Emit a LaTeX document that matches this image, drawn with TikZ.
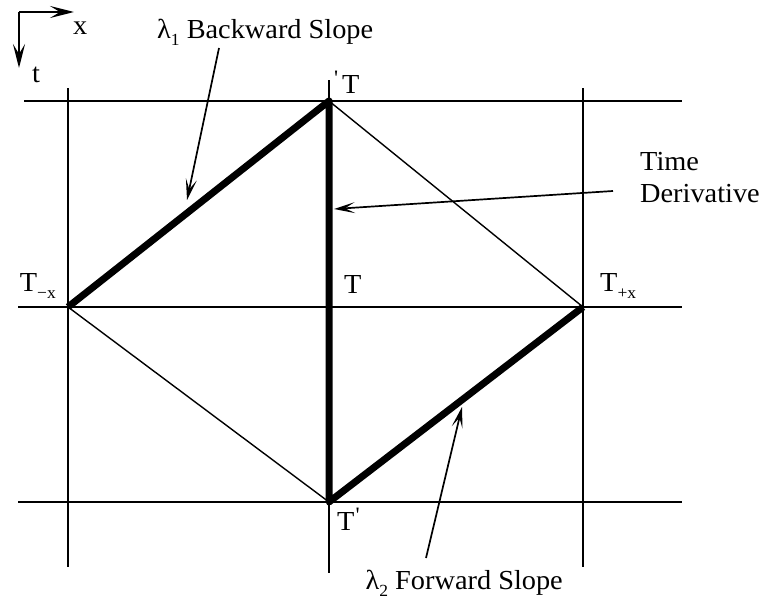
\documentclass[tikz,border=0pt]{standalone}
\usepackage{fontspec}
\setmainfont{Liberation Serif}[FakeStretch=1.03]
\usetikzlibrary{arrows.meta}
\newcommand{\tick}{\raisebox{8pt}{\fontsize{22}{22}\selectfont\textquotesingle}}
\newcommand{\subtxt}[1]{\raisebox{-7pt}{\fontsize{17}{17}\selectfont #1}}
\begin{document}
\begin{tikzpicture}[x=1pt,y=-1pt,
  gridline/.style={line width=1.4pt},
  thinedge/.style={line width=1.4pt},
  thickedge/.style={line width=7pt, line join=round},
  pointer/.style={line width=1.7pt, -{Stealth[length=21pt,width=11pt,inset=10pt]}},
  axisarrow/.style={line width=2pt, -{Stealth[length=24pt,width=12pt,inset=10pt]}},
  lbl/.style={inner sep=0pt, font=\fontsize{27.5}{32}\selectfont}]
\useasboundingbox (0,0) rectangle (768,602);
% axes
\coordinate (O) at (19,12);
\coordinate (xend) at (74,12);
\coordinate (tend) at (19,68);
\draw[axisarrow] (O) -- (xend);
\draw[axisarrow] (O) -- (tend);
\node[lbl, anchor=base west] (xl) at (73,35) {x};
\node[lbl, anchor=base west] (tl) at (32,82) {t};
% grid
\draw[gridline] (24,101) -- (682,101);
\draw[gridline] (18,307) -- (682,307);
\draw[gridline] (18,502) -- (682,502);
\draw[gridline] (68,88) -- (68,567);
\draw[gridline] (329,80) -- (329,573);
\draw[gridline] (583,88) -- (583,567);
% diamond vertices
\coordinate (N) at (329,101);
\coordinate (W) at (68,307);
\coordinate (E) at (583,307);
\coordinate (S) at (329,502);
\draw[thinedge] (N) -- (E);
\draw[thinedge] (W) -- (S);
\draw[thickedge] (W) -- (N) -- (S) -- (E);
% point labels
\node[lbl, anchor=base west] (Ttop) at (334,93) {\tick\hspace{4pt}T};
\node[lbl, anchor=base west] (Tmid) at (344,293) {T};
\node[lbl, anchor=base east] (Tleft) at (56,291) {T\subtxt{\textminus x}};
\node[lbl, anchor=base west] (Tright) at (600,291) {T\subtxt{+x}};
\node[lbl, anchor=base west] (Tbot) at (337,530) {T\hspace{1pt}\tick};
% annotation labels
\node[lbl, anchor=base west] (back) at (157,39) {λ\subtxt{1} Backward Slope};
\node[lbl, anchor=base east] (fwd) at (563,589) {λ\subtxt{2} Forward Slope};
\node[lbl, anchor=base west] (time) at (640,170) {Time};
\node[lbl, anchor=base west] (deriv) at (640,202) {Derivative};
% pointers
\coordinate (backstart) at (219,48);
\coordinate (backtip) at (187,200);
\coordinate (tdstart) at (613,191);
\coordinate (tdtip) at (334,209);
\coordinate (fwdstart) at (426,558);
\coordinate (fwdtip) at (462,407);
\draw[pointer] (backstart) -- (backtip);
\draw[pointer] (tdstart) -- (tdtip);
\draw[pointer] (fwdstart) -- (fwdtip);
\end{tikzpicture}
\end{document}
